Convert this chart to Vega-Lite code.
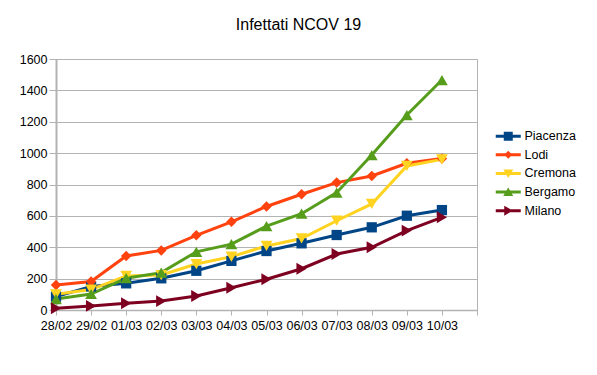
{
  "$schema": "https://vega.github.io/schema/vega-lite/v6.json",
  "width": 421,
  "height": 251,
  "autosize": {"type": "none"},
  "padding": {"left": 56, "top": 59, "right": 120, "bottom": 65},
  "background": "white",
  "title": {"text": "Infettati NCOV 19", "font": "Liberation Sans", "fontSize": 16, "fontWeight": "normal", "color": "#000000", "anchor": "middle", "dx": 32, "offset": 20},
  "config": {
    "view": {"stroke": "#b3b3b3", "strokeWidth": 1},
    "font": "Liberation Sans",
    "legend": {"orient": "none", "legendX": 446, "legendY": 71, "title": null, "padding": 0, "symbolSize": 100, "labelOffset": 10, "rowPadding": 5.6, "labelFont": "Liberation Sans", "labelFontSize": 12.5, "labelColor": "#000000", "symbolOpacity": 1, "symbolStrokeWidth": 0}
  },
  "data": {"values": [
    {"d": "28/02", "serie": "Piacenza", "v": 85},
    {"d": "29/02", "serie": "Piacenza", "v": 150},
    {"d": "01/03", "serie": "Piacenza", "v": 170},
    {"d": "02/03", "serie": "Piacenza", "v": 202},
    {"d": "03/03", "serie": "Piacenza", "v": 250},
    {"d": "04/03", "serie": "Piacenza", "v": 313},
    {"d": "05/03", "serie": "Piacenza", "v": 376},
    {"d": "06/03", "serie": "Piacenza", "v": 425},
    {"d": "07/03", "serie": "Piacenza", "v": 478},
    {"d": "08/03", "serie": "Piacenza", "v": 527},
    {"d": "09/03", "serie": "Piacenza", "v": 601},
    {"d": "10/03", "serie": "Piacenza", "v": 637},
    {"d": "28/02", "serie": "Lodi", "v": 159},
    {"d": "29/02", "serie": "Lodi", "v": 182},
    {"d": "01/03", "serie": "Lodi", "v": 344},
    {"d": "02/03", "serie": "Lodi", "v": 380},
    {"d": "03/03", "serie": "Lodi", "v": 476},
    {"d": "04/03", "serie": "Lodi", "v": 562},
    {"d": "05/03", "serie": "Lodi", "v": 660},
    {"d": "06/03", "serie": "Lodi", "v": 738},
    {"d": "07/03", "serie": "Lodi", "v": 812},
    {"d": "08/03", "serie": "Lodi", "v": 854},
    {"d": "09/03", "serie": "Lodi", "v": 935},
    {"d": "10/03", "serie": "Lodi", "v": 966},
    {"d": "28/02", "serie": "Cremona", "v": 100},
    {"d": "29/02", "serie": "Cremona", "v": 130},
    {"d": "01/03", "serie": "Cremona", "v": 217},
    {"d": "02/03", "serie": "Cremona", "v": 223},
    {"d": "03/03", "serie": "Cremona", "v": 293},
    {"d": "04/03", "serie": "Cremona", "v": 340},
    {"d": "05/03", "serie": "Cremona", "v": 408},
    {"d": "06/03", "serie": "Cremona", "v": 456},
    {"d": "07/03", "serie": "Cremona", "v": 569},
    {"d": "08/03", "serie": "Cremona", "v": 676},
    {"d": "09/03", "serie": "Cremona", "v": 918},
    {"d": "10/03", "serie": "Cremona", "v": 960},
    {"d": "28/02", "serie": "Bergamo", "v": 70},
    {"d": "29/02", "serie": "Bergamo", "v": 102},
    {"d": "01/03", "serie": "Bergamo", "v": 203},
    {"d": "02/03", "serie": "Bergamo", "v": 238},
    {"d": "03/03", "serie": "Bergamo", "v": 371},
    {"d": "04/03", "serie": "Bergamo", "v": 420},
    {"d": "05/03", "serie": "Bergamo", "v": 535},
    {"d": "06/03", "serie": "Bergamo", "v": 614},
    {"d": "07/03", "serie": "Bergamo", "v": 748},
    {"d": "08/03", "serie": "Bergamo", "v": 988},
    {"d": "09/03", "serie": "Bergamo", "v": 1243},
    {"d": "10/03", "serie": "Bergamo", "v": 1466},
    {"d": "28/02", "serie": "Milano", "v": 11},
    {"d": "29/02", "serie": "Milano", "v": 26},
    {"d": "01/03", "serie": "Milano", "v": 43},
    {"d": "02/03", "serie": "Milano", "v": 57},
    {"d": "03/03", "serie": "Milano", "v": 89},
    {"d": "04/03", "serie": "Milano", "v": 142},
    {"d": "05/03", "serie": "Milano", "v": 196},
    {"d": "06/03", "serie": "Milano", "v": 263},
    {"d": "07/03", "serie": "Milano", "v": 357},
    {"d": "08/03", "serie": "Milano", "v": 400},
    {"d": "09/03", "serie": "Milano", "v": 506},
    {"d": "10/03", "serie": "Milano", "v": 591}
  ]},
  "encoding": {
    "x": {"field": "d", "type": "ordinal",
      "scale": {"type": "point", "padding": 0, "domain": ["28/02","29/02","01/03","02/03","03/03","04/03","05/03","06/03","07/03","08/03","09/03","10/03"," "]},
      "axis": {"title": null, "labelAngle": 0, "labelFont": "Liberation Sans", "labelFontSize": 12.5, "labelColor": "#000000", "labelPadding": 4, "tickSize": 5, "tickColor": "#b3b3b3", "domainColor": "#b3b3b3", "domainWidth": 1.5, "grid": false, "labelOverlap": false}},
    "y": {"field": "v", "type": "quantitative",
      "scale": {"domain": [0, 1600], "nice": false},
      "axis": {"title": null, "values": [0,200,400,600,800,1000,1200,1400,1600], "format": "d", "labelFont": "Liberation Sans", "labelFontSize": 12.5, "labelColor": "#000000", "labelPadding": 2, "tickSize": 7, "tickColor": "#b3b3b3", "domainColor": "#b3b3b3", "domainWidth": 2, "grid": true, "gridColor": "#b3b3b3", "gridWidth": 1, "gridOpacity": 1}},
    "color": {"field": "serie", "type": "nominal",
      "scale": {"domain": ["Piacenza","Lodi","Cremona","Bergamo","Milano"], "range": ["#004586","#ff420e","#ffd320","#579d1c","#7e0021"]}}
  },
  "layer": [
    {"mark": {"type": "line", "strokeWidth": 3}},
    {"transform": [{"filter": "datum.serie === 'Piacenza'"}],
      "mark": {"type": "point", "filled": true, "opacity": 1, "size": 105, "shape": "square"}},
    {"transform": [{"filter": "datum.serie === 'Lodi'"}],
      "mark": {"type": "point", "filled": true, "opacity": 1, "size": 110, "shape": "diamond"}},
    {"transform": [{"filter": "datum.serie === 'Cremona'"}],
      "mark": {"type": "point", "filled": true, "opacity": 1, "size": 140, "shape": "triangle-down"}},
    {"transform": [{"filter": "datum.serie === 'Bergamo'"}],
      "mark": {"type": "point", "filled": true, "opacity": 1, "size": 140, "shape": "triangle-up"}},
    {"transform": [{"filter": "datum.serie === 'Milano'"}],
      "mark": {"type": "point", "filled": true, "opacity": 1, "size": 140, "shape": "triangle-right"}},
    {"mark": {"type": "point", "filled": true, "opacity": 0, "size": 100},
      "encoding": {
        "shape": {"field": "serie", "type": "nominal",
          "scale": {"domain": ["Piacenza","Lodi","Cremona","Bergamo","Milano"], "range": [
            "M-2.5,-0.3H2.5V0.3H-2.5ZM-0.9,-0.9H0.9V0.9H-0.9Z",
            "M-2.5,-0.3H2.5V0.3H-2.5ZM0,-0.8L0.8,0L0,0.8L-0.8,0Z",
            "M-2.5,-0.3H2.5V0.3H-2.5ZM-1,-0.8L1,-0.8L0,0.9Z",
            "M-2.5,-0.3H2.5V0.3H-2.5ZM-1,0.8L0,-0.9L1,0.8Z",
            "M-2.5,-0.3H2.5V0.3H-2.5ZM-0.8,-1L0.9,0L-0.8,1Z"]}}}}
  ]
}
